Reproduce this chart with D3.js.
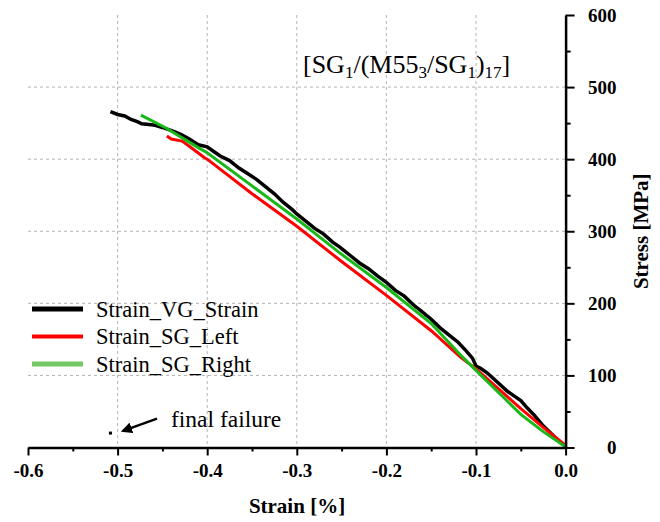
<!DOCTYPE html>
<html>
<head>
<meta charset="utf-8">
<script src="https://cdn.jsdelivr.net/npm/d3@7"></script>
<style>
  body { margin: 0; background: #fff; }
  svg { display: block; font-family: "Liberation Serif", "Times New Roman", serif; }
  .grid line { stroke: #b4b4b4; stroke-dasharray: 3,3; stroke-width: 1; }
</style>
</head>
<body>
<div id="chart"></div>
<script>
const width = 660,
height = 522;

// Strain [%] / Stress [MPa]
const vgStrain = [-0.508, -0.500, -0.492, -0.485, -0.478, -0.473, -0.465, -0.458, -0.450, -0.443,
  -0.436, -0.429, -0.420, -0.410, -0.400, -0.392, -0.385, -0.375, -0.365, -0.355,
  -0.345, -0.335, -0.325, -0.315, -0.305, -0.300, -0.290, -0.280, -0.270, -0.260,
  -0.252, -0.240, -0.230, -0.220, -0.210, -0.200, -0.190, -0.180, -0.170, -0.160,
  -0.150, -0.140, -0.130, -0.120, -0.111, -0.104, -0.100, -0.095, -0.088, -0.080,
  -0.072, -0.065, -0.058, -0.050, -0.043, -0.035, -0.025, -0.015, -0.005, 0.000];
const vgStress = [466, 462, 460, 455, 452, 449, 448, 447, 444, 441,
  438, 434, 428, 420, 417, 410, 404, 398, 388, 380,
  372, 362, 352, 340, 330, 324, 314, 304, 296, 285,
  278, 266, 256, 248, 238, 229, 218, 210, 198, 188,
  178, 166, 156, 146, 134, 124, 113, 110, 104, 95,
  86, 78, 72, 65, 55, 45, 30, 18, 6, 2];

const leftStrain = [-0.445, -0.440, -0.428, -0.420, -0.403, -0.400, -0.350, -0.300, -0.250, -0.200,
  -0.150, -0.117, -0.100, -0.050, -0.025, -0.003, 0.000];
const leftStress = [432, 428, 425, 418, 402, 400, 352, 307, 258, 211,
  162, 125, 109, 54, 28, 6, 3];

const rightStrain = [-0.474, -0.447, -0.410, -0.400, -0.350, -0.300, -0.250, -0.200, -0.150, -0.117,
  -0.100, -0.050, -0.025, 0.000];
const rightStress = [461, 444, 416, 409, 363, 317, 268, 222, 172, 128,
  107, 46, 22, 1];

const failurePoint = [-0.508, 20];
const arrowFrom = [-0.456, 40];
const arrowTo = [-0.494, 23];

const xTicks = [-0.6, -0.5, -0.4, -0.3, -0.2, -0.1, 0.0];
const xMinor = [-0.55, -0.45, -0.35, -0.25, -0.15, -0.05];
const yTicks = [0, 100, 200, 300, 400, 500, 600];
const yMinor = [50, 150, 250, 350, 450, 550];

const seriesNames = ["Strain_VG_Strain", "Strain_SG_Left", "Strain_SG_Right"];

const svg = d3.select("#chart")
  .append("svg")
  .attr("width", width)
  .attr("height", height);

let x = d3.scaleLinear()
  .domain([-0.6, 0])
  .range([28, 565.6]);

let y = d3.scaleLinear()
  .domain([0, 600])
  .range([447.5, 15]);

// grid
svg.append("g")
  .attr("class", "grid")
  .selectAll("line.v")
  .data(xTicks.slice(1, -1))
  .join("line")
  .attr("x1", d => x(d)).attr("x2", d => x(d))
  .attr("y1", y(600)).attr("y2", y(0));

svg.append("g")
  .attr("class", "grid")
  .selectAll("line.h")
  .data(yTicks.slice(1, -1))
  .join("line")
  .attr("x1", x(-0.6)).attr("x2", x(0))
  .attr("y1", d => y(d)).attr("y2", d => y(d));

let line = d3.line()
  .x(d => x(d[0]))
  .y(d => y(d[1]));

const series = [
  { pts: d3.zip(vgStrain, vgStress), color: "#000000", w: 3.5 },
  { pts: d3.zip(leftStrain, leftStress), color: "#ff0000", w: 3 },
  { pts: d3.zip(rightStrain, rightStress), color: "#18b818", w: 3 }
];

for (let s of series) {
  svg.append("path")
    .datum(s.pts)
    .attr("fill", "none")
    .attr("stroke", s.color)
    .attr("stroke-width", s.w)
    .attr("stroke-linejoin", "miter")
    .attr("d", line);
}

// final failure point
svg.append("rect")
  .attr("x", x(failurePoint[0]) - 1.5)
  .attr("y", y(failurePoint[1]) - 1.5)
  .attr("width", 3)
  .attr("height", 3)
  .attr("fill", "#000");

// axes
const xAxis = svg.append("g")
  .attr("transform", `translate(0,${y(0)})`)
  .call(d3.axisBottom(x).tickValues(xTicks).tickSize(8).tickSizeOuter(0)
    .tickFormat(d => d.toFixed(1)));
xAxis.select(".domain").attr("stroke-width", 2.5);
xAxis.selectAll(".tick line").attr("stroke-width", 2);
xAxis.selectAll("text")
  .attr("font-family", "Liberation Serif")
  .attr("font-weight", 700)
  .attr("font-size", 19)
  .attr("fill", "#000")
  .attr("y", 16)
  .attr("dy", "0.71em");

svg.append("g")
  .attr("transform", `translate(0,${y(0)})`)
  .call(d3.axisBottom(x).tickValues(xMinor).tickSize(4).tickFormat(""))
  .call(g => g.select(".domain").remove())
  .selectAll(".tick line").attr("stroke-width", 2);

const yAxis = svg.append("g")
  .attr("transform", `translate(${x(0)},0)`)
  .call(d3.axisRight(y).tickValues(yTicks).tickSize(9).tickSizeOuter(0));
yAxis.select(".domain").attr("stroke-width", 2.5);
yAxis.selectAll(".tick line").attr("stroke-width", 2);
yAxis.selectAll("text")
  .attr("font-family", "Liberation Serif")
  .attr("font-weight", 700)
  .attr("font-size", 19)
  .attr("fill", "#000")
  .attr("text-anchor", "end")
  .attr("x", 51);

svg.append("g")
  .attr("transform", `translate(${x(0)},0)`)
  .call(d3.axisRight(y).tickValues(yMinor).tickSize(5).tickFormat(""))
  .call(g => g.select(".domain").remove())
  .selectAll(".tick line").attr("stroke-width", 2);

// axis labels
svg.append("text")
  .attr("x", 297)
  .attr("y", 513)
  .attr("text-anchor", "middle")
  .attr("font-weight", 700)
  .attr("font-size", 21)
  .text("Strain [%]");

svg.append("text")
  .attr("transform", `translate(648,${(y(0) + y(600)) / 2}) rotate(-90)`)
  .attr("text-anchor", "middle")
  .attr("font-weight", 700)
  .attr("font-size", 21)
  .text("Stress [MPa]");

// layup label
const title = svg.append("text")
  .attr("x", 303)
  .attr("y", 73)
  .attr("font-size", 26);
const parts = [["[SG", 0], ["1", 1], ["/(M55", 0], ["3", 1], ["/SG", 0], ["1", 1], [")", 0], ["17", 1], ["]", 0]];
let prevSub = 0;
for (let [t, sub] of parts) {
  title.append("tspan")
    .attr("dy", sub === prevSub ? 0 : (sub ? 5 : -5))
    .attr("font-size", sub ? 17 : 26)
    .text(t);
  prevSub = sub;
}

// legend
const legendColors = ["#000000", "#ff0000", "#76c866"];
const legendW = [5, 4, 5];
seriesNames.forEach((name, i) => {
  let ly = 309 + i * 27.5;
  svg.append("line")
    .attr("x1", 32).attr("x2", 83)
    .attr("y1", ly).attr("y2", ly)
    .attr("stroke", legendColors[i])
    .attr("stroke-width", legendW[i]);
  svg.append("text")
    .attr("x", 96)
    .attr("y", ly + 7.5)
    .attr("font-size", 22.5)
    .text(name);
});

// final failure annotation
svg.append("defs").append("marker")
  .attr("id", "arrow")
  .attr("viewBox", "0 0 10 10")
  .attr("refX", 8).attr("refY", 5)
  .attr("markerWidth", 4.5).attr("markerHeight", 4.5)
  .attr("orient", "auto")
  .append("path")
  .attr("d", "M0,0L10,5L0,10z")
  .attr("fill", "#000");

svg.append("line")
  .attr("x1", x(arrowFrom[0])).attr("y1", y(arrowFrom[1]))
  .attr("x2", x(arrowTo[0])).attr("y2", y(arrowTo[1]))
  .attr("stroke", "#000")
  .attr("stroke-width", 2.5)
  .attr("marker-end", "url(#arrow)");

svg.append("text")
  .attr("x", 171)
  .attr("y", 427)
  .attr("font-size", 23.5)
  .text("final failure");
</script>
</body>
</html>
